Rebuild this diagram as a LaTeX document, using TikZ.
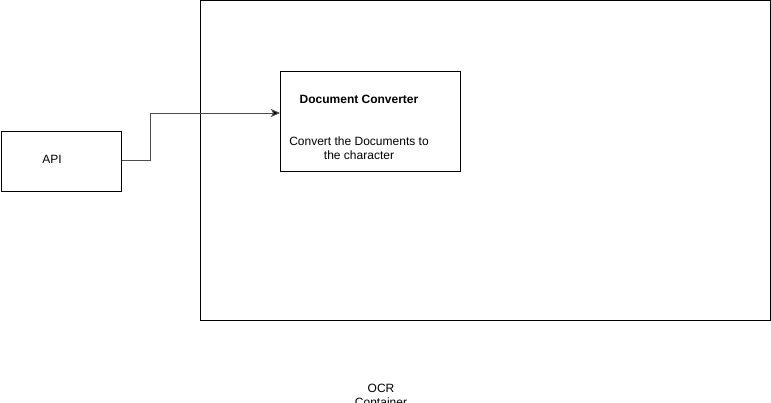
\documentclass[tikz,border=0pt]{standalone}
\usepackage{fontspec}
\setmainfont{Liberation Sans}
\usetikzlibrary{arrows.meta}
\begin{document}
\begin{tikzpicture}[x=1pt,y=-1pt,
  box/.style={draw=black,line width=1pt},
  lbl/.style={inner sep=0pt,font=\fontsize{12}{14}\selectfont,align=center},
  conn/.style={draw=black!70,line width=1pt,-{Stealth[length=9pt,width=8pt,inset=2pt,fill=black]}}]
\useasboundingbox (0,0) rectangle (771,402);
\draw[box] (200.5,0.5) rectangle (770.5,320.5);
\node[box,minimum width=120pt,minimum height=60pt,anchor=north west,inner sep=0pt] (api) at (0.5,130.5) {};
\node[lbl] at (52,159) {API};
\node[box,minimum width=180pt,minimum height=100pt,anchor=north west,inner sep=0pt] (dc) at (280,70.5) {};
\node[lbl,font=\fontsize{12}{14}\selectfont\bfseries] at (359,99) {Document Converter};
\node[lbl] at (359,148) {Convert the Documents to\\the character};
\coordinate (tgt) at (280,113);
\draw[conn] (api.east |- 0,160.5) -- (150.5,160.5) -- (150.5,113) -- (tgt);
\node[lbl] at (381,395) {OCR\\Container};
\end{tikzpicture}
\end{document}
